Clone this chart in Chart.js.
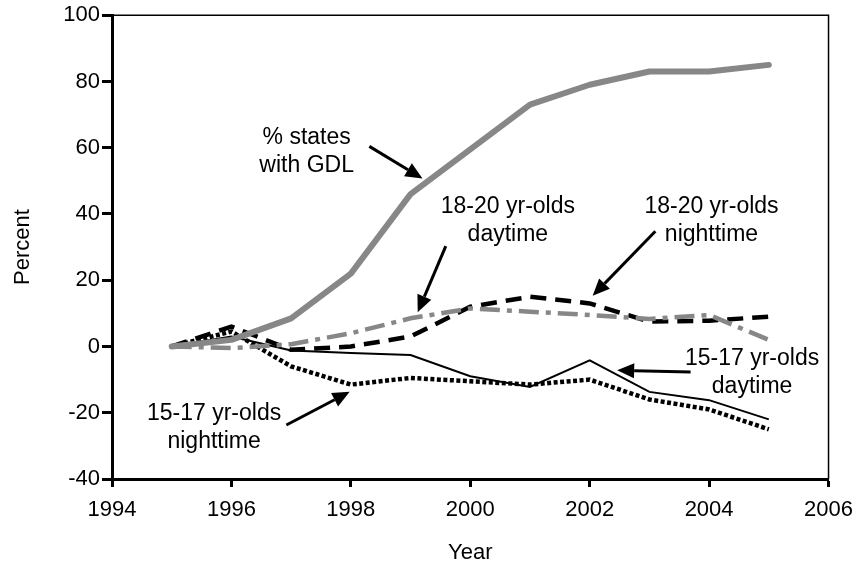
<!DOCTYPE html>
<html>
<head>
<meta charset="utf-8">
<script src="https://cdn.jsdelivr.net/npm/chart.js@4.4.1/dist/chart.umd.min.js"></script>
<style>
  html, body { margin: 0; padding: 0; background: #fff; }
  #wrap { width: 863px; height: 564px; }
</style>
</head>
<body>
<div id="wrap"><canvas id="chart"></canvas></div>
<script>
const years = [1995, 1996, 1997, 1998, 1999, 2000, 2001, 2002, 2003, 2004, 2005];
const gdlStates = [0, 2, 8.5, 22, 46, 59.5, 73, 79, 83, 83, 85];
const day1820 = [0, -0.5, 0.7, 4, 8.5, 11.5, 10.5, 9.5, 8.3, 9.5, 2];
const night1820 = [0, 6, -1, 0, 3, 12, 15, 13, 7.5, 7.8, 9];
const day1517 = [0, 3, -1.2, -2, -2.6, -9, -12.2, -4.2, -13.7, -16.2, -22];
const night1517 = [0, 4.5, -6, -11.5, -9.5, -10.5, -11.5, -10, -16, -19, -25];

const xTicks = [1994, 1996, 1998, 2000, 2002, 2004, 2006];
const yTicks = [-40, -20, 0, 20, 40, 60, 80, 100];

// callouts, anchored in chart units (year, percent)
const notes = [
  { lines: ['% states', 'with GDL'], at: [1997.26, 58.9], from: [1998.31, 60.4], to: [1999.2, 50.7] },
  { lines: ['18-20 yr-olds', 'daytime'], at: [2000.63, 38.1], from: [1999.59, 30.3], to: [1999.12, 10.3] },
  { lines: ['18-20 yr-olds', 'nighttime'], at: [2004.04, 38.1], from: [2003.1, 34.8], to: [2002.05, 15.3] },
  { lines: ['15-17 yr-olds', 'daytime'], at: [2004.72, -7.9], from: [2003.69, -7.7], to: [2002.46, -7.2] },
  { lines: ['15-17 yr-olds', 'nighttime'], at: [1995.71, -24.6], from: [1996.92, -23.7], to: [1997.98, -13.7] }
];

const FONT = '"Liberation Sans", Arial, sans-serif';
const pts = arr => years.map((y, i) => ({ x: y, y: arr[i] }));

const boxPlugin = {
  id: 'box',
  afterDatasetsDraw(chart) {
    const { ctx, chartArea: a } = chart;
    ctx.save();
    ctx.strokeStyle = '#000';
    ctx.lineWidth = 1.5;
    ctx.beginPath();
    ctx.moveTo(a.left, a.top);
    ctx.lineTo(a.right, a.top);
    ctx.lineTo(a.right, a.bottom);
    ctx.stroke();
    ctx.restore();
  }
};

const notesPlugin = {
  id: 'notes',
  afterDraw(chart) {
    const { ctx, scales } = chart;
    const px = p => [scales.x.getPixelForValue(p[0]), scales.y.getPixelForValue(p[1])];
    ctx.save();
    ctx.fillStyle = '#000';
    ctx.strokeStyle = '#000';
    ctx.font = '23px ' + FONT;
    ctx.textAlign = 'center';
    ctx.textBaseline = 'middle';
    notes.forEach(n => {
      const [cx, cy] = px(n.at);
      ctx.fillText(n.lines[0], cx, cy - 14);
      ctx.fillText(n.lines[1], cx, cy + 14);
      const [x1, y1] = px(n.from);
      const [x2, y2] = px(n.to);
      const ang = Math.atan2(y2 - y1, x2 - x1);
      const head = 17, half = 7.5;
      const bx = x2 - head * Math.cos(ang), by = y2 - head * Math.sin(ang);
      ctx.lineWidth = 3;
      ctx.beginPath();
      ctx.moveTo(x1, y1);
      ctx.lineTo(bx, by);
      ctx.stroke();
      ctx.beginPath();
      ctx.moveTo(x2, y2);
      ctx.lineTo(bx + half * Math.sin(ang), by - half * Math.cos(ang));
      ctx.lineTo(bx - half * Math.sin(ang), by + half * Math.cos(ang));
      ctx.closePath();
      ctx.fill();
    });
    ctx.restore();
  }
};

new Chart(document.getElementById('chart').getContext('2d'), {
  type: 'line',
  data: {
    datasets: [
      { label: '% states with GDL', data: pts(gdlStates), borderColor: '#878787', borderWidth: 6,
        borderJoinStyle: 'round', borderCapStyle: 'round' },
      { label: '18-20 yr-olds daytime', data: pts(day1820), borderColor: '#878787', borderWidth: 4.5,
        borderDash: [20, 7, 5, 7] },
      { label: '18-20 yr-olds nighttime', data: pts(night1820), borderColor: '#000', borderWidth: 4.5,
        borderDash: [16, 9] },
      { label: '15-17 yr-olds daytime', data: pts(day1517), borderColor: '#000', borderWidth: 2 },
      { label: '15-17 yr-olds nighttime', data: pts(night1517), borderColor: '#000', borderWidth: 4.5,
        borderDash: [4, 2.5] }
    ]
  },
  options: {
    responsive: true,
    maintainAspectRatio: false,
    animation: false,
    layout: { padding: { top: 13, right: 33, left: 0, bottom: 0 } },
    elements: { point: { radius: 0 }, line: { tension: 0, fill: false } },
    plugins: { legend: { display: false }, tooltip: { enabled: false } },
    scales: {
      x: {
        type: 'linear', min: 1994, max: 2006,
        afterBuildTicks: s => { s.ticks = xTicks.map(v => ({ value: v })); },
        afterFit: s => { s.height = 85; },
        grid: { drawOnChartArea: false, tickLength: 8, tickWidth: 3, tickColor: '#000' },
        border: { color: '#000', width: 3 },
        ticks: { color: '#000', font: { family: FONT, size: 22 }, padding: 10, maxRotation: 0,
          callback: v => String(v) },
        title: { display: true, text: 'Year', color: '#000', font: { family: FONT, size: 22 },
          padding: { top: 0, bottom: -2 } }
      },
      y: {
        min: -40, max: 100,
        afterBuildTicks: s => { s.ticks = yTicks.map(v => ({ value: v })); },
        afterFit: s => { s.width = 112; },
        grid: { drawOnChartArea: false, tickLength: 10, tickWidth: 3, tickColor: '#000' },
        border: { color: '#000', width: 3 },
        ticks: { color: '#000', font: { family: FONT, size: 22 }, padding: 2 },
        title: { display: true, text: 'Percent', color: '#000', font: { family: FONT, size: 22 },
          padding: { top: 10, bottom: 0 } }
      }
    }
  },
  plugins: [boxPlugin, notesPlugin]
});
</script>
</body>
</html>
